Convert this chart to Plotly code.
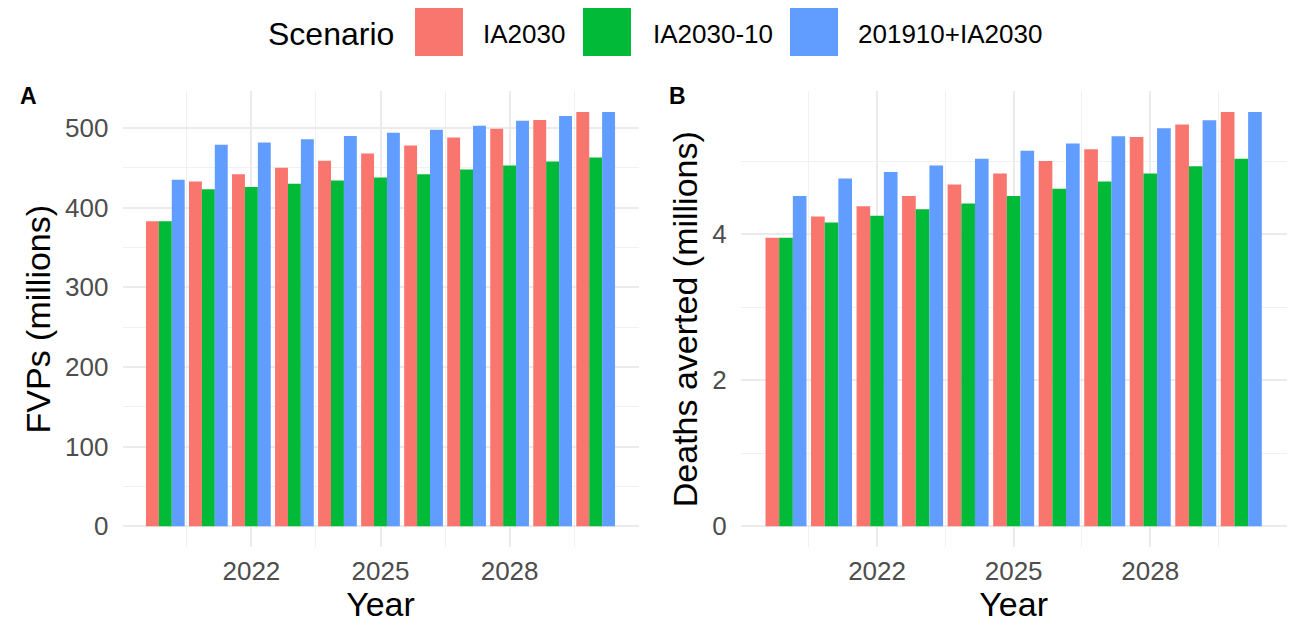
import plotly.graph_objects as go

# ---------------- data ----------------
years = [2020, 2021, 2022, 2023, 2024, 2025, 2026, 2027, 2028, 2029, 2030]
scenarios = ["IA2030", "IA2030-10", "201910+IA2030"]
colors = ["#F8766D", "#00BA38", "#619CFF"]

fvps_ia2030 = [383, 433, 442, 450, 459, 468, 478, 488, 499, 510, 520]
fvps_ia2030_10 = [383, 423, 426, 430, 434, 438, 442, 448, 453, 458, 463]
fvps_201910 = [435, 479, 482, 486, 490, 494, 498, 503, 509, 515, 520]

deaths_ia2030 = [3.95, 4.24, 4.38, 4.52, 4.68, 4.83, 5.00, 5.16, 5.33, 5.50, 5.67]
deaths_ia2030_10 = [3.95, 4.16, 4.25, 4.34, 4.42, 4.52, 4.62, 4.72, 4.83, 4.93, 5.03]
deaths_201910 = [4.52, 4.76, 4.85, 4.94, 5.03, 5.14, 5.24, 5.34, 5.45, 5.56, 5.67]

x_ticks = [2022, 2025, 2028]
x_minor = [2020.5, 2023.5, 2026.5, 2029.5]
fvps_ticks = [0, 100, 200, 300, 400, 500]
fvps_minor = [50, 150, 250, 350, 450]
deaths_ticks = [0, 2, 4]
deaths_minor = [1, 3, 5]

# ---------------- figure ----------------
W, H = 1301, 623
FONT = "Liberation Sans, Arial, Helvetica, sans-serif"
GRID = "#EBEBEB"
GRID_MINOR = "#F1F1F1"

fvps = [fvps_ia2030, fvps_ia2030_10, fvps_201910]
deaths = [deaths_ia2030, deaths_ia2030_10, deaths_201910]

fig = go.Figure()
for name, col, vals in zip(scenarios, colors, fvps):
    fig.add_trace(go.Bar(x=years, y=vals, name=name, marker=dict(color=col, line=dict(width=0)),
                         xaxis="x", yaxis="y", showlegend=False, offsetgroup=name))
for name, col, vals in zip(scenarios, colors, deaths):
    fig.add_trace(go.Bar(x=years, y=vals, name=name, marker=dict(color=col, line=dict(width=0)),
                         xaxis="x2", yaxis="y2", showlegend=False, offsetgroup=name))


def px_x(p):
    return p / W


def px_y(p):
    return 1 - p / H


bar_w = 0.9
xmin = min(years) - bar_w / 2
xmax = max(years) + bar_w / 2
xpad = 0.05 * (xmax - xmin)
xrange = [xmin - xpad, xmax + xpad]

ya_max = max(max(v) for v in fvps)
yb_max = max(max(v) for v in deaths)
yrange_a = [-0.05 * ya_max, 1.05 * ya_max]
yrange_b = [-0.05 * yb_max, 1.05 * yb_max]

tickfont = dict(family=FONT, size=26, color="#4D4D4D")
titlefont = dict(family=FONT, size=34, color="#000000")


def xaxis(domain, anchor):
    return dict(domain=domain, anchor=anchor, range=xrange, tickmode="array", tickvals=x_ticks,
                showgrid=True, gridcolor=GRID, gridwidth=1.5, zeroline=False, showline=False,
                ticks="", ticklabelstandoff=6, tickfont=tickfont,
                title=dict(text="Year", font=titlefont, standoff=2),
                minor=dict(tickmode="array", tickvals=x_minor, showgrid=True, gridcolor=GRID_MINOR, gridwidth=0.8))


def yaxis(domain, anchor, rng, tv, mv, title):
    return dict(domain=domain, anchor=anchor, range=rng, tickmode="array", tickvals=tv,
                showgrid=True, gridcolor=GRID, gridwidth=1.5, zeroline=False, showline=False,
                ticks="", ticklabelstandoff=13, tickfont=tickfont,
                title=dict(text=title, font=titlefont, standoff=4),
                minor=dict(tickmode="array", tickvals=mv, showgrid=True, gridcolor=GRID_MINOR, gridwidth=0.8))


ydom = [px_y(547), px_y(91.4)]
fig.update_layout(
    width=W, height=H, autosize=False,
    margin=dict(l=0, r=0, t=0, b=0),
    paper_bgcolor="white", plot_bgcolor="white",
    barmode="group", bargap=0.1, bargroupgap=0,
    font=dict(family=FONT),
    xaxis=xaxis([px_x(122.5), px_x(638.5)], "y"),
    yaxis=yaxis(ydom, "x", yrange_a, fvps_ticks, fvps_minor, "FVPs (millions)"),
    xaxis2=xaxis([px_x(740.7), px_x(1286.6)], "y2"),
    yaxis2=yaxis(ydom, "x2", yrange_b, deaths_ticks, deaths_minor, "Deaths averted (millions)"),
    showlegend=False,
)

# panel tags
annotations = [
    dict(text="<b>A</b>", x=px_x(18), y=px_y(96), xref="paper", yref="paper", xanchor="left",
         yanchor="middle", showarrow=False, font=dict(family=FONT, size=23, color="black")),
    dict(text="<b>B</b>", x=px_x(667), y=px_y(96), xref="paper", yref="paper", xanchor="left",
         yanchor="middle", showarrow=False, font=dict(family=FONT, size=23, color="black")),
]

# legend (drawn manually to match large ggplot keys)
annotations.append(dict(text="Scenario", x=px_x(266), y=px_y(34), xref="paper", yref="paper",
                        xanchor="left", yanchor="middle", showarrow=False,
                        font=dict(family=FONT, size=32, color="black")))
key_left = [415, 583, 790]
label_left = [481, 651, 856]
shapes = []
for name, col, kl, ll in zip(scenarios, colors, key_left, label_left):
    shapes.append(dict(type="rect", xref="paper", yref="paper", x0=px_x(kl), x1=px_x(kl + 48),
                       y0=px_y(56), y1=px_y(8), fillcolor=col, line=dict(width=0)))
    annotations.append(dict(text=name, x=px_x(ll), y=px_y(34), xref="paper", yref="paper",
                            xanchor="left", yanchor="middle", showarrow=False,
                            font=dict(family=FONT, size=26, color="black")))

fig.update_layout(annotations=annotations, shapes=shapes)
fig.write_html("out.html",
               config={"displayModeBar": False},
               post_script="document.body.style.margin='0px';document.body.style.overflow='hidden';")
